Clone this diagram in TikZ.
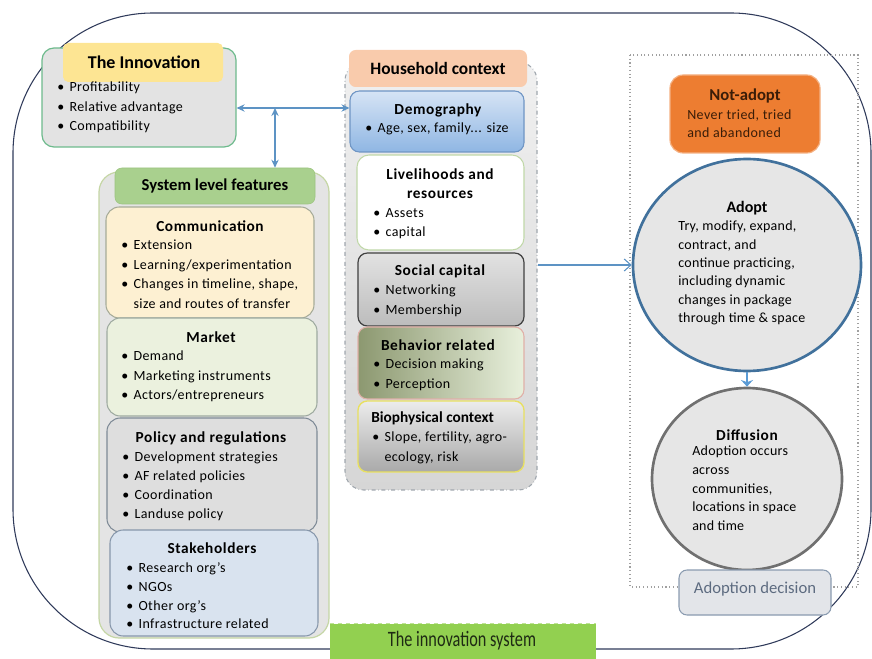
\documentclass[tikz,border=0pt]{standalone}
\usepackage{fontspec}
\setmainfont{Carlito}
\usetikzlibrary{fit,arrows.meta,shapes.geometric}
\definecolor{framec}{HTML}{2F3A5A}
\definecolor{innofill}{HTML}{E3E3E3}
\definecolor{innodraw}{HTML}{6DBA8C}
\definecolor{innotab}{HTML}{FDE593}
\definecolor{sysfill}{HTML}{E4E4E4}
\definecolor{sysdraw}{HTML}{C5D6A5}
\definecolor{systab}{HTML}{A9D08E}
\definecolor{systabd}{HTML}{9CC480}
\definecolor{commfill}{HTML}{FDF0D2}
\definecolor{commdraw}{HTML}{A6AB98}
\definecolor{mktfill}{HTML}{EBF1DE}
\definecolor{mktdraw}{HTML}{9EAAA0}
\definecolor{polfill}{HTML}{DEDEDE}
\definecolor{poldraw}{HTML}{7E8A96}
\definecolor{stkfill}{HTML}{D9E3EF}
\definecolor{stkdraw}{HTML}{8797AB}
\definecolor{hhtop}{HTML}{F0F0F0}
\definecolor{hhbot}{HTML}{D6D6D6}
\definecolor{hhdraw}{HTML}{9FA6AD}
\definecolor{hhtab}{HTML}{F9CBAC}
\definecolor{demotop}{HTML}{D6E4F5}
\definecolor{demobot}{HTML}{8FB6E3}
\definecolor{demodraw}{HTML}{6F95C4}
\definecolor{livdraw}{HTML}{C0D8A8}
\definecolor{soctop}{HTML}{E2E2E2}
\definecolor{socbot}{HTML}{BCBCBC}
\definecolor{socdraw}{HTML}{404040}
\definecolor{behleft}{HTML}{8C9870}
\definecolor{behright}{HTML}{E8F0DC}
\definecolor{behdraw}{HTML}{E0B0A8}
\definecolor{biotop}{HTML}{ECECEC}
\definecolor{biobot}{HTML}{A9A9A9}
\definecolor{biodraw}{HTML}{E8E060}
\definecolor{dashc}{HTML}{A0A0A0}
\definecolor{notfill}{HTML}{ED7D31}
\definecolor{notdraw}{HTML}{F4B183}
\definecolor{nottext}{HTML}{3A1D08}
\definecolor{circfill}{HTML}{E6E6E6}
\definecolor{adoptdraw}{HTML}{41719C}
\definecolor{diffdraw}{HTML}{707070}
\definecolor{decfill}{HTML}{E3E5E9}
\definecolor{decdraw}{HTML}{8A9BB0}
\definecolor{dectext}{HTML}{5D6B80}
\definecolor{greenbox}{HTML}{92D050}
\definecolor{greentext}{HTML}{1E2A14}
\definecolor{arrowc}{HTML}{5D93C4}
\definecolor{thickarrow}{HTML}{5B9BD5}
\newcommand{\bul}{\textbullet\hspace{4pt}}
\newcommand{\bulgap}{\hphantom{\textbullet\hspace{4pt}}}
\begin{document}
\begin{tikzpicture}[x=0.75pt,y=-0.75pt,
  boxx/.style={inner sep=0pt, rounded corners=7pt},
  ttl/.style={font=\bfseries\fontsize{11.5}{13}\selectfont\addfontfeature{LetterSpace=4}, inner sep=0pt},
  bigttl/.style={font=\bfseries\fontsize{12.5}{14}\selectfont, inner sep=0pt},
  body/.style={font=\fontsize{10.5}{14.6}\selectfont\addfontfeature{LetterSpace=3}, align=left, anchor=north west, inner sep=0pt},
  cbody/.style={font=\fontsize{10.5}{13.7}\selectfont\addfontfeature{LetterSpace=2}, align=left, anchor=north west, inner sep=0pt},
  dbl/.style={{Stealth[length=6pt,width=5.5pt]}-{Stealth[length=6pt,width=5.5pt]}, draw=arrowc, line width=1.1pt},
]
\useasboundingbox (0,0) rectangle (872,659);

% outer frame
\draw[framec, line width=0.8pt, rounded corners=105pt] (13,13) rectangle (871,649);

% ---------- The Innovation ----------
\node[boxx, fit={(42,48) (236,147)}, fill=innofill, draw=innodraw, line width=0.9pt, rounded corners=9pt] (innov) {};
\node[boxx, fit={(63,43) (223,82)}, fill=innotab, rounded corners=4pt] (innotab) {};
\node[bigttl, font=\bfseries\fontsize{13.5}{15}\selectfont] (innotitle) at (144,62) {The Innovation};
\node[body] (innobody) at (57,82) {\bul Profitability\\ \bul Relative advantage\\ \bul Compatibility};

% ---------- System level features ----------
\node[boxx, fit={(99,172) (329,638)}, fill=sysfill, draw=sysdraw, line width=0.9pt, rounded corners=15pt] (sysc) {};
\node[boxx, fit={(115,168) (315,204)}, fill=systab, draw=systabd, rounded corners=5pt] (systab) {};
\node[bigttl] (systitle) at (215,186) {System level features};

\node[boxx, fit={(106,207) (314,318)}, fill=commfill, draw=commdraw, line width=0.8pt, rounded corners=10pt] (comm) {};
\node[ttl] (commtitle) at (210,226) {Communication};
\node[body] (commbody) at (121,240) {\bul Extension\\ \bul Learning/experimentation\\ \bul Changes in timeline, shape,\\ \bulgap size and routes of transfer};

\node[boxx, fit={(107,318) (317,416)}, fill=mktfill, draw=mktdraw, line width=0.8pt, rounded corners=10pt] (mkt) {};
\node[ttl] (mkttitle) at (211,337) {Market};
\node[body] (mktbody) at (121,351) {\bul Demand\\ \bul Marketing instruments\\ \bul Actors/entrepreneurs};

\node[boxx, fit={(107,418) (317,532)}, fill=polfill, draw=poldraw, line width=0.8pt, rounded corners=10pt] (pol) {};
\node[ttl] (poltitle) at (211,438) {Policy and regulations};
\node[body, font=\fontsize{10.5}{14.2}\selectfont\addfontfeature{LetterSpace=3}] (polbody) at (122,452) {\bul Development strategies\\ \bul AF related policies\\ \bul Coordination\\ \bul Landuse policy};

\node[boxx, fit={(110,530) (318,636)}, fill=stkfill, draw=stkdraw, line width=0.8pt, rounded corners=10pt] (stk) {};
\node[ttl] (stktitle) at (212,548) {Stakeholders};
\node[body, font=\fontsize{10.5}{14.2}\selectfont\addfontfeature{LetterSpace=3}] (stkbody) at (126,562) {\bul Research org's\\ \bul NGOs\\ \bul Other org's\\ \bul Infrastructure related};

% ---------- Household context ----------
\node[boxx, fit={(345,62) (537,490)}, top color=hhtop, bottom color=hhbot, draw=hhdraw, dash dot, line width=0.8pt, rounded corners=14pt] (hhc) {};
\node[boxx, fit={(349,50) (527,87)}, fill=hhtab, rounded corners=5pt] (hhtab) {};
\node[bigttl, font=\bfseries\fontsize{13}{15}\selectfont] (hhtitle) at (438,68) {Household context};

\node[boxx, fit={(350,91) (524,152)}, top color=demotop, bottom color=demobot, draw=demodraw, line width=0.8pt] (demo) {};
\node[ttl] (demotitle) at (438,110) {Demography};
\node[body, anchor=center] (demobody) at (437,129) {\bul Age, sex, family... size};

\node[boxx, fit={(357,155) (524,250)}, fill=white, draw=livdraw, line width=0.8pt, rounded corners=9pt] (liv) {};
\node[ttl, align=center, font=\bfseries\fontsize{11.5}{14.3}\selectfont\addfontfeature{LetterSpace=4}] (livtitle) at (440,184) {Livelihoods and\\resources};
\node[body] (livbody) at (373,208) {\bul Assets\\ \bul capital};

\node[boxx, fit={(358,253) (524,326)}, top color=soctop, bottom color=socbot, draw=socdraw, line width=0.9pt] (soc) {};
\node[ttl] (soctitle) at (440,271) {Social capital};
\node[body] (socbody) at (373,285) {\bul Networking\\ \bul Membership};

\node[boxx, fit={(358,327) (524,399)}, left color=behleft, right color=behright, draw=behdraw, line width=0.8pt] (beh) {};
\node[ttl] (behtitle) at (438,345) {Behavior related};
\node[body] (behbody) at (373,359) {\bul Decision making\\ \bul Perception};

\node[boxx, fit={(358,401) (524,472)}, top color=biotop, bottom color=biobot, draw=biodraw, line width=1pt] (bio) {};
\node[ttl, anchor=west, font=\bfseries\fontsize{11.5}{13}\selectfont] (biotitle) at (371,418) {Biophysical context};
\node[body] (biobody) at (372,432) {\bul Slope, fertility, agro-\\ \bulgap ecology, risk};

% connectors between innovation, system and household
\coordinate (jn) at (275,108);
\draw[dbl] (innov.east |- jn) -- (demo.west |- jn);
\draw[dbl] (jn) -- (systab.north -| jn);

% ---------- Right column ----------
\draw[dashc, dotted, line width=0.8pt] (630,55) rectangle (858,587);

\node[boxx, fit={(670,75) (820,153)}, fill=notfill, draw=notdraw, line width=0.9pt, rounded corners=10pt] (notad) {};
\node[bigttl, font=\bfseries\fontsize{12.5}{14}\selectfont, text=nottext] (nottitle) at (745,96) {Not-adopt};
\node[body, font=\fontsize{10.5}{12.8}\selectfont\addfontfeature{LetterSpace=3}, text=nottext] (notbody) at (687,110) {Never tried, tried\\and abandoned};

\node[ellipse, minimum width=228*0.75pt, minimum height=212*0.75pt, fill=circfill, draw=adoptdraw, line width=2pt, inner sep=0pt] (adopt) at (747,265) {};
\node[ttl, font=\bfseries\fontsize{12}{14}\selectfont] (adopttitle) at (747,208) {Adopt};
\node[cbody] (adoptbody) at (678,221) {Try, modify, expand,\\contract, and\\continue practicing,\\including dynamic\\changes in package\\through time \& space};

\node[ellipse, minimum width=190*0.75pt, minimum height=182*0.75pt, fill=circfill, draw=diffdraw, line width=2pt, inner sep=0pt] (diff) at (747,479) {};
\node[ttl] (difftitle) at (747,435) {Diffusion};
\node[cbody, font=\fontsize{10.5}{13.9}\selectfont\addfontfeature{LetterSpace=2}] (diffbody) at (692,446) {Adoption occurs\\across\\communities,\\locations in space\\and time};

\node[boxx, fit={(679,570) (831,615)}, fill=decfill, draw=decdraw, line width=0.8pt, rounded corners=6pt] (adec) {};
\node[font=\fontsize{12.5}{14}\selectfont, text=dectext, inner sep=0pt] (adectext) at (755,589) {Adoption decision};

\draw[-{Straight Barb[length=5pt,width=9pt]}, draw=arrowc, line width=0.8pt] (hhc.east |- adopt.west) -- (adopt.west);
\draw[-{Stealth[length=5pt,width=9pt]}, draw=thickarrow, line width=2.2pt] (adopt.south) -- (diff.north);

% ---------- bottom label ----------
\node[boxx, fit={(330,624) (596,664)}, fill=greenbox, rounded corners=0pt] (isys) {};
\draw[greenbox!60!white, dashed, line width=0.6pt] (isys.north west) -- (isys.north east);
\node[font=\fontsize{16.5}{18}\selectfont, text=greentext, inner sep=0pt] (isystext) at (462,641) {\scalebox{0.74}[1]{The innovation system}};
\end{tikzpicture}
\end{document}
